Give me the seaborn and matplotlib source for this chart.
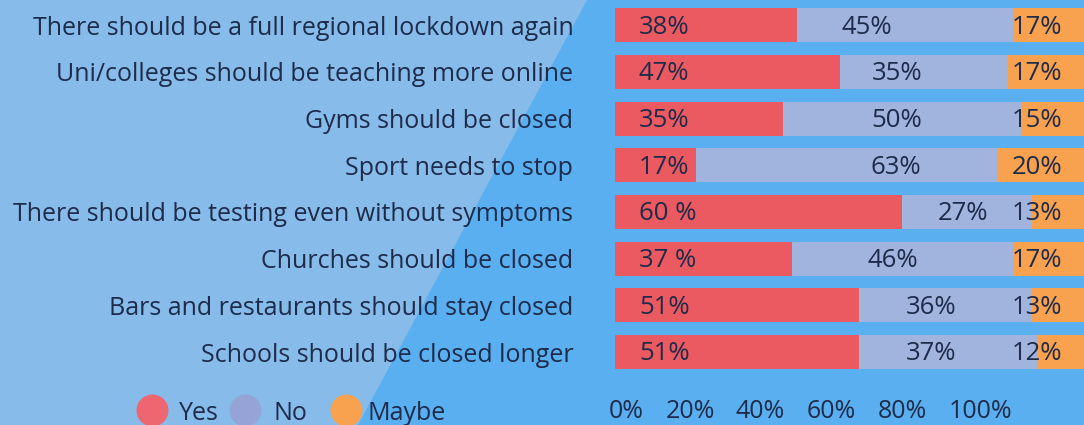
import seaborn as sns
import matplotlib.pyplot as plt
import pandas as pd
from matplotlib.patches import Polygon
from matplotlib.lines import Line2D

sns.set_theme(style="white")
plt.rcParams['font.family'] = ['Open Sans', 'DejaVu Sans']

# Survey data
statements = [
    "There should be a full regional lockdown again",
    "Uni/colleges should be teaching more online",
    "Gyms should be closed",
    "Sport needs to stop",
    "There should be testing even without symptoms",
    "Churches should be closed",
    "Bars and restaurants should stay closed",
    "Schools should be closed longer",
]
yes = [38, 47, 35, 17, 60, 37, 51, 51]
no = [45, 35, 50, 63, 27, 46, 36, 37]
maybe = [17, 17, 15, 20, 13, 17, 13, 12]
yes_labels = ["38%", "47%", "35%", "17%", "60 %", "37 %", "51%", "51%"]
no_labels = ["45%", "35%", "50%", "63%", "27%", "46%", "36%", "37%"]
maybe_labels = ["17%", "17%", "15%", "20%", "13%", "17%", "13%", "12%"]
tick_labels = ["0%", "20%", "40%", "60%", "80%", "100%"]

# where the "No" labels sit in the original (not centred)
no_label_x = [52.5, 58.8, 58.8, 58.6, 72.7, 58.0, 66.0, 66.0]
tick_x = [2.3, 15.7, 30.3, 45.2, 59.9, 76.2]

df = pd.DataFrame({"statement": statements, "yes": yes, "no": no, "maybe": maybe})
df["yes_no"] = df["yes"] + df["no"]
df["total"] = df["yes_no"] + df["maybe"]

RED = "#EB5A60"
LAV = "#A0B4DE"
ORANGE = "#F8A14E"
BG_DARK = "#5AAFF0"
BG_LIGHT = "#86BBEA"
TXT = "#1E2B4A"

fig = plt.figure(figsize=(10.84, 4.25), dpi=100)
fig.patch.set_facecolor(BG_DARK)
fig.add_artist(Polygon([(0, 1), (587 / 1084, 1), (358 / 1084, 0), (0, 0)],
                       closed=True, transform=fig.transFigure,
                       facecolor=BG_LIGHT, edgecolor="none", zorder=0))

ax = fig.add_axes([615 / 1084, 0.1167, 469 / 1084, 0.879])
ax.patch.set_alpha(0)

for col, c in [("total", ORANGE), ("yes_no", LAV), ("yes", RED)]:
    sns.barplot(data=df, x=col, y="statement", orient="h", color=c,
                width=0.73, saturation=1, linewidth=0, ax=ax)

ax.set_xlim(0, 97.9)
ax.set_ylim(7.5, -0.5)
for s in ax.spines.values():
    s.set_visible(False)
ax.set_xlabel("")
ax.set_ylabel("")

for i in range(len(statements)):
    ax.text(5.0, i + 0.04, yes_labels[i], ha="left", va="center", fontsize=18.5, color=TXT)
    ax.text(no_label_x[i], i + 0.04, no_labels[i], ha="center", va="center", fontsize=18.5, color=TXT)
    ax.text(93.4, i + 0.04, maybe_labels[i], ha="right", va="center", fontsize=18.5, color=TXT)

ax.set_xticks(tick_x)
ax.set_xticklabels(tick_labels, fontsize=18, color=TXT)
ax.tick_params(axis="x", length=0, pad=17)
ax.tick_params(axis="y", length=0, pad=30, labelsize=18, labelcolor=TXT)

# legend
legend_items = [("Yes", "#EE6670", 152, 179), ("No", "#96A3D6", 245, 273), ("Maybe", ORANGE, 346.5, 368)]
for name, col, cx, tx in legend_items:
    fig.add_artist(Line2D([cx / 1084], [1 - 410 / 425], marker="o", markersize=23,
                          color=col, markeredgewidth=0, transform=fig.transFigure))
    fig.text(tx / 1084, 1 - 413 / 425, name, ha="left", va="center", fontsize=18, color=TXT)

fig.savefig("out.png", dpi=100, facecolor=fig.get_facecolor())
